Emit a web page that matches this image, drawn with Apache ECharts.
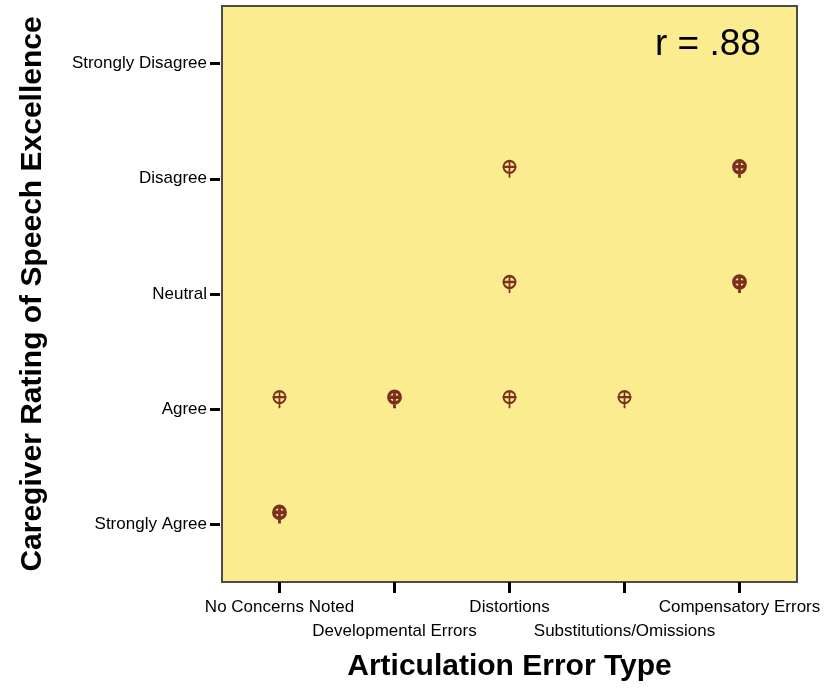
<!DOCTYPE html>
<html>
<head>
<meta charset="utf-8">
<script src="https://cdn.jsdelivr.net/npm/echarts@6/dist/echarts.min.js"></script>
<style>
  html, body { margin: 0; padding: 0; background: #fff; }
  #chart { width: 832px; height: 690px; }
</style>
</head>
<body>
<div id="chart"></div>
<script>
const errorTypes = ['No Concerns Noted', 'Developmental Errors', 'Distortions', 'Substitutions/Omissions', 'Compensatory Errors'];
const ratings = ['Strongly Agree', 'Agree', 'Neutral', 'Disagree', 'Strongly Disagree'];
// [error type index, rating index]
const singleCases = [[0, 1], [2, 1], [2, 2], [2, 3], [3, 1]];
const multipleCases = [[0, 0], [1, 1], [4, 2], [4, 3]];
const rValue = 'r = .88';

const font = 'Liberation Sans';
const markColor = '#5e0000';
// ring + cross + stem (stroked)
const markPath = 'path://M1,7 A6,6 0 1,1 13,7 A6,6 0 1,1 1,7 Z M7,0 L7,18 M0,7 L14,7';

const chart = echarts.init(document.getElementById('chart'));

chart.setOption({
  animation: false,
  backgroundColor: '#fff',
  grid: {
    left: 222, top: 6, right: 35, bottom: 108,
    show: true,
    backgroundColor: '#faec8f',
    borderColor: '#4a4a4a',
    borderWidth: 2
  },
  xAxis: {
    type: 'category',
    data: errorTypes,
    boundaryGap: true,
    name: 'Articulation Error Type',
    nameLocation: 'middle',
    nameGap: 70,
    nameTextStyle: { fontFamily: font, fontSize: 30, fontWeight: 'bold', color: '#000' },
    axisLine: { show: true, lineStyle: { color: '#4a4a4a', width: 2 } },
    axisTick: { show: true, alignWithLabel: true, length: 11, lineStyle: { color: '#000', width: 3 } },
    axisLabel: {
      interval: 0,
      margin: 13,
      fontFamily: font, fontSize: 17, color: '#000', lineHeight: 24,
      formatter: (v, i) => (i % 2 ? '\n' + v : v)
    },
    splitLine: { show: false }
  },
  yAxis: {
    type: 'category',
    data: ratings,
    boundaryGap: true,
    offset: 2,
    name: 'Caregiver Rating of Speech Excellence',
    nameLocation: 'middle',
    nameGap: 172,
    nameRotate: 90,
    nameTextStyle: { fontFamily: font, fontSize: 30, fontWeight: 'bold', color: '#000' },
    axisLine: { show: false },
    axisTick: { show: true, alignWithLabel: true, length: 10, lineStyle: { color: '#000', width: 3 } },
    axisLabel: { margin: 13, fontFamily: font, fontSize: 17, color: '#000' },
    splitLine: { show: false }
  },
  series: [
    {
      type: 'scatter',
      data: singleCases,
      symbol: markPath,
      symbolSize: [14, 18],
      symbolOffset: [0, -10],
      itemStyle: { color: 'transparent', borderColor: markColor, borderWidth: 2 }
    },
    {
      type: 'scatter',
      data: multipleCases,
      symbol: markPath,
      symbolSize: [14, 18],
      symbolOffset: [0, -10],
      itemStyle: { color: 'transparent', borderColor: markColor, borderWidth: 3.2 }
    }
  ],
  graphic: [
    {
      type: 'text',
      left: 655,
      top: 26,
      style: { text: rValue, fontFamily: font, fontSize: 37, fill: '#000' }
    }
  ]
});
</script>
</body>
</html>
